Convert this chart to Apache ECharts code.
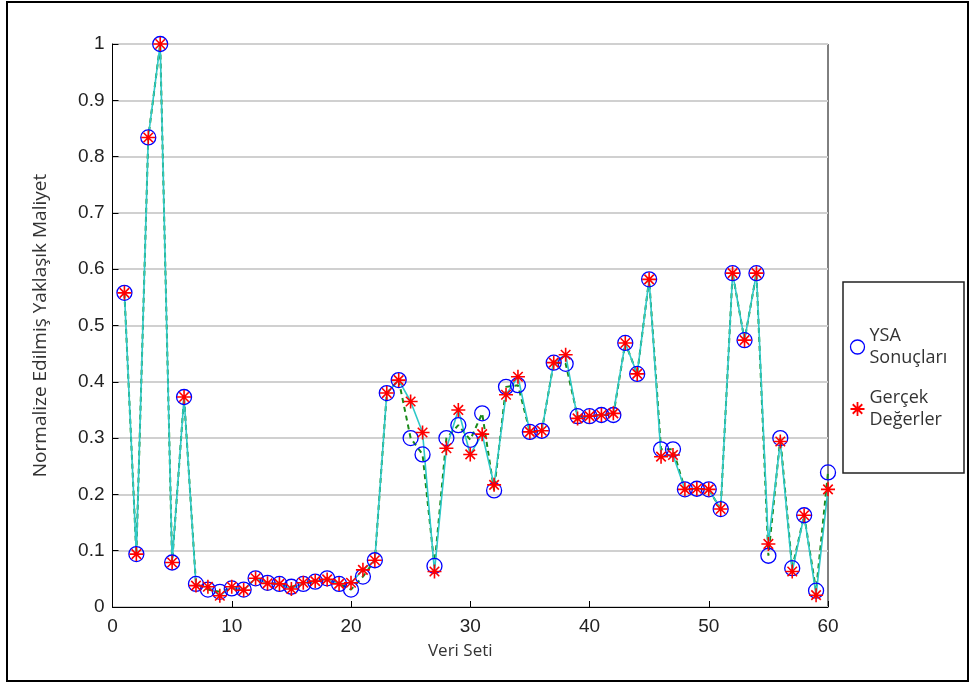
<!DOCTYPE html>
<html>
<head>
<meta charset="utf-8">
<script src="https://cdn.jsdelivr.net/npm/echarts@6/dist/echarts.min.js"></script>
<style>
html,body{margin:0;padding:0;background:#fff;}
#chart{width:972px;height:684px;}
</style>
</head>
<body>
<div id="chart"></div>
<script>
var xValues = [1,2,3,4,5,6,7,8,9,10,11,12,13,14,15,16,17,18,19,20,21,22,23,24,25,26,27,28,29,30,31,32,33,34,35,36,37,38,39,40,41,42,43,44,45,46,47,48,49,50,51,52,53,54,55,56,57,58,59,60];
var ysaValues = [0.558,0.094,0.834,1.000,0.079,0.373,0.041,0.031,0.027,0.033,0.031,0.051,0.043,0.041,0.036,0.041,0.045,0.051,0.041,0.031,0.054,0.083,0.380,0.403,0.300,0.271,0.073,0.300,0.323,0.297,0.344,0.207,0.391,0.394,0.311,0.313,0.434,0.432,0.339,0.339,0.341,0.341,0.469,0.414,0.582,0.280,0.280,0.209,0.210,0.209,0.174,0.593,0.474,0.593,0.091,0.300,0.069,0.163,0.029,0.239];
var gercekValues = [0.558,0.094,0.834,1.000,0.079,0.373,0.038,0.036,0.020,0.036,0.030,0.051,0.042,0.041,0.032,0.043,0.046,0.049,0.041,0.043,0.066,0.083,0.380,0.403,0.365,0.310,0.063,0.282,0.350,0.271,0.307,0.217,0.377,0.409,0.311,0.313,0.434,0.448,0.335,0.339,0.341,0.344,0.469,0.414,0.582,0.267,0.270,0.209,0.210,0.209,0.174,0.593,0.474,0.593,0.112,0.294,0.063,0.163,0.021,0.209];
var seriesNames = ['YSA Sonuçları', 'Gerçek Değerler'];
var xAxisName = 'Veri Seti';
var yAxisName = 'Normalize Edilmiş Yaklaşık Maliyet';

function pairs(ys){ return xValues.map(function(x,i){ return [x, ys[i]]; }); }
var starPath = 'path://M5,0L5,10M0,5L10,5M1.6,1.6L8.4,8.4M8.4,1.6L1.6,8.4';

var chart = echarts.init(document.getElementById('chart'), null, {renderer:'canvas'});
var tickFont = 'Liberation Sans';
var textFont = 'Open Sans';
chart.setOption({
  animation: false,
  backgroundColor: '#fff',
  grid: {left:112.5, right:144, top:44, bottom:77, show:true, borderColor:'#000', borderWidth:1, backgroundColor:'#fff'},
  xAxis: {
    type:'value', min:0, max:60, interval:10,
    name: xAxisName, nameLocation:'middle', nameGap:36,
    nameTextStyle:{fontFamily:textFont, fontSize:17, color:'#333', padding:[0,20,0,0]},
    axisLine:{show:true, onZero:false, lineStyle:{color:'#000', width:1}},
    axisTick:{show:true, inside:true, length:6, lineStyle:{color:'#000'}},
    axisLabel:{fontFamily:tickFont, fontSize:19, color:'#222', margin:10},
    splitLine:{show:false}
  },
  yAxis: {
    type:'value', min:0, max:1, interval:0.1,
    name: yAxisName, nameLocation:'middle', nameGap:62,
    nameTextStyle:{fontFamily:textFont, fontSize:19, color:'#333'},
    axisLine:{show:true, lineStyle:{color:'#000', width:1}},
    axisTick:{show:true, inside:true, length:6, lineStyle:{color:'#000'}},
    axisLabel:{fontFamily:tickFont, fontSize:19, color:'#222', margin:8},
    splitLine:{show:true, lineStyle:{color:'#d0d0d0', width:2}}
  },
  legend: {
    left:848, top:325, orient:'vertical', itemWidth:14, itemHeight:14, itemGap:18,
    padding:0,
    formatter: function(n){ return n.replace(' ', '\n'); },
    textStyle:{fontFamily:textFont, fontSize:18, color:'#333', lineHeight:22},
    data:[
      {name:seriesNames[0], icon:'circle', itemStyle:{color:'none', borderColor:'#0000ff', borderWidth:1.3}},
      {name:seriesNames[1], icon:starPath, itemStyle:{color:'none', borderColor:'#ff0000', borderWidth:1.8}}
    ]
  },
  graphic: [
    {type:'rect', shape:{x:7, y:2, width:961, height:679}, style:{fill:'none', stroke:'#000', lineWidth:2}, z:-10},
    {type:'rect', shape:{x:843, y:282, width:121, height:191}, style:{fill:'#fff', stroke:'#222', lineWidth:1.5}, z:-5}
  ],
  series: [
    {name:'YSA çizgi', type:'line', data:pairs(ysaValues), showSymbol:false, symbol:'none', z:2,
     lineStyle:{color:'#1a8a1a', width:2, type:[5,4]}},
    {name:'Gerçek çizgi', type:'line', data:pairs(gercekValues), showSymbol:false, symbol:'none', z:3,
     lineStyle:{color:'#2ec8c8', width:1.6}},
    {name:seriesNames[0], type:'scatter', data:pairs(ysaValues), symbol:'circle', symbolSize:15, z:4,
     itemStyle:{color:'none', borderColor:'#0000ff', borderWidth:1.3, opacity:1}},
    {name:seriesNames[1], type:'scatter', data:pairs(gercekValues), symbol:starPath, symbolSize:14, z:5,
     itemStyle:{color:'none', borderColor:'#ff0000', borderWidth:1.6, opacity:1}}
  ]
});
</script>
</body>
</html>
